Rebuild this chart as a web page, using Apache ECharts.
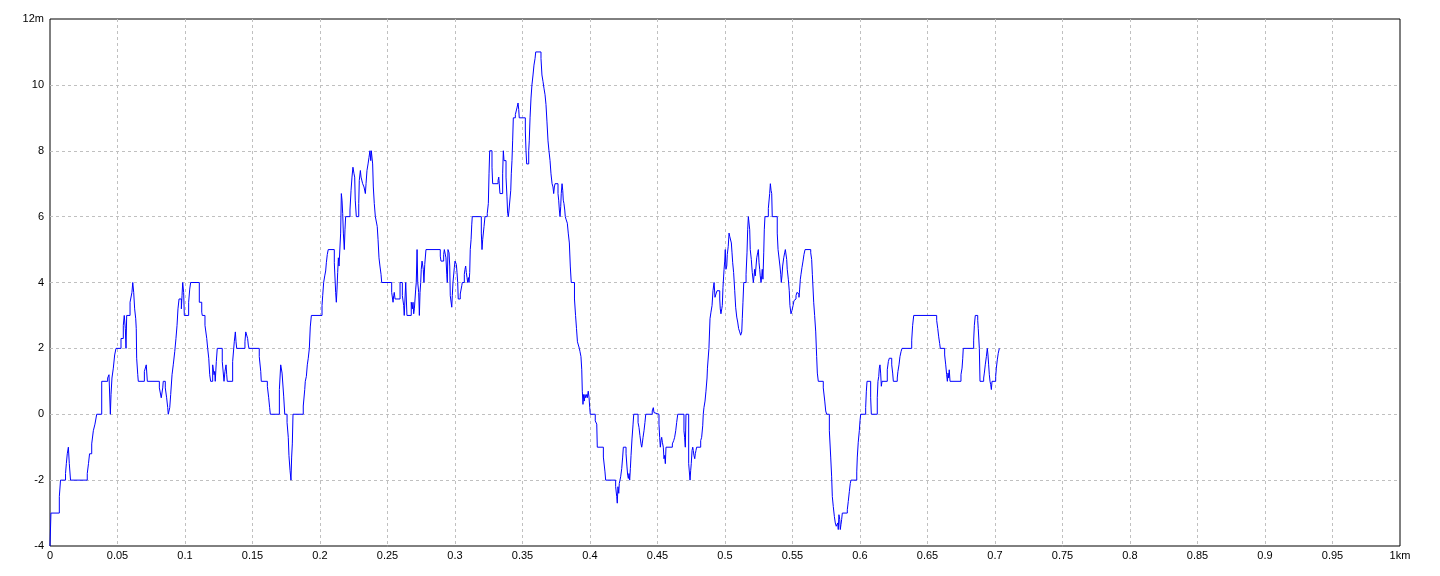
<!DOCTYPE html>
<html>
<head>
<meta charset="utf-8">
<style>
  html, body { margin: 0; padding: 0; background: #fff; }
  #chart { width: 1440px; height: 576px; }
</style>
<script src="https://cdn.jsdelivr.net/npm/echarts@6/dist/echarts.min.js"></script>
</head>
<body>
<div id="chart"></div>
<script>
// Distance along the route (km) where the elevation changes to the value below
const distanceKm = [
  0, 0.0007, 0.0069, 0.0078, 0.0115, 0.0121, 0.0128, 0.0136, 0.0143, 0.0152,
  0.0276, 0.0285, 0.0293, 0.0309, 0.0321, 0.0333, 0.0346, 0.0383, 0.0427, 0.0437,
  0.0447, 0.0452, 0.0459, 0.0469, 0.0479, 0.0489, 0.0526, 0.0543, 0.0550, 0.0558,
  0.0563, 0.0568, 0.0593, 0.0607, 0.0613, 0.0620, 0.0627, 0.0635, 0.0639, 0.0642,
  0.0650, 0.0654, 0.0699, 0.0713, 0.0721, 0.0810, 0.0824, 0.0835, 0.0839, 0.0854,
  0.0864, 0.0872, 0.0876, 0.0887, 0.0894, 0.0904, 0.0913, 0.0924, 0.0933, 0.0941,
  0.0948, 0.0956, 0.0973, 0.0978, 0.0983, 0.0990, 0.0995, 0.1027, 0.1035, 0.1042,
  0.1106, 0.1124, 0.1128, 0.1148, 0.1161, 0.1168, 0.1176, 0.1183, 0.1190, 0.1205,
  0.1215, 0.1220, 0.1224, 0.1232, 0.1239, 0.1276, 0.1289, 0.1296, 0.1304, 0.1309,
  0.1313, 0.1353, 0.1365, 0.1373, 0.1378, 0.1383, 0.1444, 0.1450, 0.1464, 0.1469,
  0.1474, 0.1550, 0.1561, 0.1565, 0.1610, 0.1620, 0.1627, 0.1632, 0.1699, 0.1709,
  0.1719, 0.1731, 0.1739, 0.1756, 0.1765, 0.1770, 0.1778, 0.1785, 0.1790, 0.1795,
  0.1800, 0.1876, 0.1887, 0.1891, 0.1899, 0.1906, 0.1913, 0.1921, 0.1928, 0.1936,
  0.2015, 0.2020, 0.2027, 0.2035, 0.2042, 0.2047, 0.2054, 0.2061, 0.2106, 0.2116,
  0.2121, 0.2126, 0.2131, 0.2136, 0.2141, 0.2153, 0.2158, 0.2163, 0.2168, 0.2173,
  0.2180, 0.2185, 0.2190, 0.2222, 0.2230, 0.2237, 0.2244, 0.2252, 0.2257, 0.2261,
  0.2269, 0.2287, 0.2291, 0.2299, 0.2304, 0.2316, 0.2326, 0.2336, 0.2341, 0.2348,
  0.2356, 0.2363, 0.2370, 0.2376, 0.2380, 0.2390, 0.2395, 0.2402, 0.2410, 0.2424,
  0.2430, 0.2437, 0.2444, 0.2452, 0.2457, 0.2531, 0.2541, 0.2546, 0.2550, 0.2556,
  0.2593, 0.2610, 0.2620, 0.2624, 0.2635, 0.2644, 0.2676, 0.2684, 0.2689, 0.2694,
  0.2699, 0.2704, 0.2709, 0.2713, 0.2719, 0.2724, 0.2731, 0.2736, 0.2741, 0.2746,
  0.2750, 0.2756, 0.2765, 0.2770, 0.2776, 0.2780, 0.2785, 0.2891, 0.2896, 0.2916,
  0.2921, 0.2933, 0.2939, 0.2943, 0.2948, 0.2956, 0.2961, 0.2965, 0.2976, 0.2980,
  0.2985, 0.2995, 0.3000, 0.3010, 0.3015, 0.3020, 0.3024, 0.3039, 0.3050, 0.3054,
  0.3069, 0.3074, 0.3079, 0.3084, 0.3089, 0.3094, 0.3099, 0.3104, 0.3109, 0.3113,
  0.3119, 0.3124, 0.3128, 0.3195, 0.3200, 0.3205, 0.3215, 0.3222, 0.3239, 0.3247,
  0.3252, 0.3257, 0.3274, 0.3279, 0.3319, 0.3324, 0.3328, 0.3333, 0.3353, 0.3358,
  0.3363, 0.3378, 0.3385, 0.3390, 0.3395, 0.3400, 0.3413, 0.3417, 0.3422, 0.3427,
  0.3432, 0.3447, 0.3459, 0.3467, 0.3472, 0.3476, 0.3521, 0.3526, 0.3531, 0.3546,
  0.3550, 0.3556, 0.3563, 0.3570, 0.3578, 0.3585, 0.3593, 0.3598, 0.3637, 0.3644,
  0.3652, 0.3659, 0.3667, 0.3674, 0.3681, 0.3689, 0.3696, 0.3704, 0.3711, 0.3719,
  0.3726, 0.3731, 0.3736, 0.3741, 0.3763, 0.3768, 0.3773, 0.3778, 0.3783, 0.3787,
  0.3793, 0.3798, 0.3802, 0.3807, 0.3813, 0.3817, 0.3824, 0.3832, 0.3839, 0.3847,
  0.3854, 0.3861, 0.3885, 0.3893, 0.3900, 0.3907, 0.3921, 0.3926, 0.3933, 0.3939,
  0.3943, 0.3948, 0.3953, 0.3958, 0.3963, 0.3968, 0.3976, 0.3980, 0.3987, 0.3993,
  0.3998, 0.4002, 0.4039, 0.4050, 0.4054, 0.4099, 0.4111, 0.4116, 0.4190, 0.4198,
  0.4202, 0.4207, 0.4213, 0.4217, 0.4222, 0.4227, 0.4235, 0.4242, 0.4247, 0.4267,
  0.4274, 0.4279, 0.4284, 0.4289, 0.4294, 0.4299, 0.4304, 0.4311, 0.4319, 0.4324,
  0.4356, 0.4363, 0.4370, 0.4378, 0.4383, 0.4387, 0.4393, 0.4400, 0.4407, 0.4413,
  0.4461, 0.4469, 0.4474, 0.4479, 0.4511, 0.4516, 0.4521, 0.4526, 0.4531, 0.4536,
  0.4543, 0.4548, 0.4553, 0.4558, 0.4563, 0.4610, 0.4620, 0.4627, 0.4635, 0.4642,
  0.4650, 0.4696, 0.4701, 0.4706, 0.4711, 0.4731, 0.4741, 0.4746, 0.4750, 0.4756,
  0.4761, 0.4765, 0.4770, 0.4776, 0.4780, 0.4785, 0.4790, 0.4820, 0.4827, 0.4835,
  0.4839, 0.4844, 0.4852, 0.4859, 0.4867, 0.4870, 0.4881, 0.4889, 0.4896, 0.4904,
  0.4911, 0.4919, 0.4926, 0.4933, 0.4941, 0.4961, 0.4965, 0.4970, 0.4976, 0.4980,
  0.4985, 0.4993, 0.4998, 0.5002, 0.5007, 0.5013, 0.5017, 0.5024, 0.5030, 0.5035,
  0.5039, 0.5047, 0.5052, 0.5057, 0.5064, 0.5072, 0.5079, 0.5087, 0.5094, 0.5101,
  0.5109, 0.5116, 0.5124, 0.5128, 0.5133, 0.5139, 0.5156, 0.5163, 0.5168, 0.5173,
  0.5183, 0.5187, 0.5195, 0.5202, 0.5210, 0.5215, 0.5220, 0.5224, 0.5230, 0.5235,
  0.5242, 0.5247, 0.5252, 0.5257, 0.5261, 0.5267, 0.5272, 0.5276, 0.5281, 0.5287,
  0.5291, 0.5296, 0.5321, 0.5331, 0.5336, 0.5341, 0.5346, 0.5350, 0.5387, 0.5393,
  0.5407, 0.5413, 0.5417, 0.5422, 0.5427, 0.5435, 0.5442, 0.5447, 0.5457, 0.5461,
  0.5469, 0.5476, 0.5481, 0.5489, 0.5496, 0.5504, 0.5511, 0.5519, 0.5526, 0.5533,
  0.5541, 0.5548, 0.5553, 0.5558, 0.5563, 0.5570, 0.5578, 0.5585, 0.5593, 0.5635,
  0.5642, 0.5647, 0.5657, 0.5664, 0.5672, 0.5679, 0.5684, 0.5691, 0.5728, 0.5739,
  0.5746, 0.5753, 0.5773, 0.5783, 0.5790, 0.5795, 0.5802, 0.5810, 0.5817, 0.5824,
  0.5830, 0.5835, 0.5839, 0.5844, 0.5850, 0.5854, 0.5859, 0.5864, 0.5869, 0.5906,
  0.5913, 0.5921, 0.5928, 0.5933, 0.5976, 0.5980, 0.5987, 0.5995, 0.6000, 0.6005,
  0.6042, 0.6047, 0.6052, 0.6079, 0.6084, 0.6128, 0.6133, 0.6139, 0.6143, 0.6148,
  0.6153, 0.6158, 0.6163, 0.6202, 0.6210, 0.6217, 0.6235, 0.6242, 0.6247, 0.6276,
  0.6281, 0.6289, 0.6296, 0.6304, 0.6311, 0.6383, 0.6390, 0.6398, 0.6568, 0.6576,
  0.6583, 0.6590, 0.6595, 0.6627, 0.6635, 0.6642, 0.6647, 0.6652, 0.6657, 0.6661,
  0.6667, 0.6748, 0.6756, 0.6761, 0.6765, 0.6842, 0.6847, 0.6854, 0.6872, 0.6876,
  0.6884, 0.6889, 0.6916, 0.6921, 0.6928, 0.6936, 0.6943, 0.6948, 0.6953, 0.6958,
  0.6963, 0.6968, 0.6973, 0.6978, 0.7005, 0.7010, 0.7017, 0.7024, 0.7032
];

// Elevation (m) from that distance on
const elevationM = [
  -4, -3, -2.5, -2, -1.8, -1.5, -1.2, -1.0, -1.5, -2,
  -1.8, -1.5, -1.2, -0.9, -0.5, -0.3, 0, 1, 1.1, 1.2,
  0, 0.6, 1.1, 1.4, 1.8, 2, 2.3, 2.7, 3.0, 2.6,
  2.0, 3, 3.4, 3.7, 4, 3.7, 3.2, 2.9, 2.6, 1.7,
  1.2, 1, 1.3, 1.5, 1, 0.8, 0.5, 0.8, 1, 0.8,
  0.5, 0.2, 0, 0.2, 0.6, 1.2, 1.5, 1.9, 2.3, 2.7,
  3.2, 3.5, 3.2, 3.6, 4, 3.7, 3, 3.4, 3.8, 4,
  3.4, 3.1, 3, 2.7, 2.3, 2, 1.7, 1.2, 1, 1.5,
  1.2, 1.3, 1, 1.6, 2, 1.6, 1, 1.3, 1.5, 1.2,
  1, 1.6, 2.2, 2.5, 2.2, 2, 2.2, 2.5, 2.3, 2.1,
  2, 1.75, 1.3, 1, 0.85, 0.5, 0.2, 0, 0.75, 1.5,
  1.25, 0.55, 0, -0.25, -0.7, -1.25, -1.7, -2, -1.3, -0.9,
  0, 0.25, 0.75, 1, 1.15, 1.5, 1.7, 2, 2.65, 3,
  3.3, 3.6, 4, 4.2, 4.35, 4.6, 4.85, 5, 4.6, 3.7,
  3.4, 3.8, 4.3, 4.75, 4.5, 5.5, 6.7, 6.5, 6.1, 5.5,
  5, 5.6, 6, 6.2, 6.8, 7.2, 7.5, 7.3, 7.2, 6.5,
  6, 6.4, 7.1, 7.4, 7.2, 7.0, 6.9, 6.7, 7.0, 7.4,
  7.6, 7.8, 8, 7.7, 8, 7.6, 6.9, 6.4, 6, 5.7,
  5.3, 4.75, 4.5, 4.25, 4, 3.7, 3.4, 3.6, 3.7, 3.5,
  4, 3.6, 3.3, 3, 4, 3, 3.4, 3.2, 3.4, 3.05,
  3.2, 3.5, 3.8, 4, 5, 4, 3.7, 3, 3.7, 4,
  4.4, 4.65, 4.4, 4, 4.55, 4.5, 5, 4.8, 4.65, 4.85,
  5, 4.75, 4.25, 4, 5, 4.9, 4.5, 3.6, 3.25, 3.6,
  4, 4.45, 4.65, 4.55, 4.3, 4, 3.5, 3.65, 3.9, 4,
  4.25, 4.4, 4.5, 4.3, 4.15, 4, 4.15, 4, 4.3, 5,
  5.3, 5.75, 6, 5.5, 5, 5.3, 5.7, 6, 6.1, 6.4,
  7.3, 8, 7.5, 7, 7.1, 7.2, 7, 6.7, 7.3, 8,
  7.7, 7.2, 6.6, 6.1, 6, 6.2, 6.8, 7.3, 7.7, 8.3,
  9, 9.1, 9.3, 9.45, 9.25, 9, 8.6, 8, 7.6, 8,
  8.3, 9, 9.6, 10, 10.3, 10.6, 10.8, 11, 10.8, 10.3,
  10.1, 9.9, 9.7, 9.4, 8.9, 8.3, 8, 7.7, 7.3, 7.0,
  6.9, 6.7, 6.9, 7, 6.7, 6.5, 6.2, 6, 6.3, 6.7,
  7, 6.8, 6.5, 6.4, 6.2, 6.0, 5.9, 5.8, 5.5, 5.2,
  4.5, 4, 3.5, 3, 2.6, 2.2, 2, 1.9, 1.75, 1.35,
  0.7, 0.3, 0.6, 0.4, 0.6, 0.5, 0.6, 0.5, 0.7, 0.5,
  0.2, 0, -0.2, -0.3, -1, -1.3, -1.75, -2, -2.2, -2.5,
  -2.7, -2.2, -2.4, -2.1, -2, -1.9, -1.65, -1.3, -1, -1.2,
  -1.6, -1.85, -1.95, -1.8, -2, -1.65, -1.25, -0.75, -0.3, 0,
  -0.25, -0.4, -0.65, -0.9, -1, -0.9, -0.7, -0.5, -0.25, 0,
  0.1, 0.2, 0.05, 0, -0.3, -0.7, -1, -0.8, -0.7, -0.85,
  -1.0, -1.35, -1.25, -1.5, -1, -0.9, -0.8, -0.7, -0.5, -0.25,
  0, -0.5, -0.7, -1, 0, -1.5, -2, -1.7, -1.5, -1.1,
  -1, -1.1, -1.25, -1.35, -1.2, -1.1, -1, -0.8, -0.7, -0.35,
  0, 0.2, 0.4, 0.7, 1.1, 1.4, 2.0, 2.9, 3.1, 3.3,
  3.75, 4, 3.55, 3.65, 3.75, 3.5, 3.2, 3.05, 3.2, 3.3,
  3.85, 4.4, 4.65, 5, 4.4, 4.5, 4.85, 5.1, 5.5, 5.4,
  5.35, 5.2, 4.9, 4.6, 4.3, 3.75, 3.25, 2.95, 2.8, 2.6,
  2.5, 2.4, 2.5, 2.9, 3.4, 4, 4.25, 4.9, 5.6, 6,
  5.6, 5, 4.7, 4.3, 4, 4.2, 4.4, 4.2, 4.5, 4.75,
  4.9, 5, 4.6, 4.4, 4.2, 4, 4.2, 4.4, 4.1, 4.9,
  5.6, 6, 6.25, 6.7, 7, 6.8, 6.7, 6, 5.5, 5,
  4.5, 4.25, 4, 4.2, 4.5, 4.75, 4.9, 5, 4.7, 4.4,
  4.1, 3.75, 3.3, 3.05, 3.15, 3.3, 3.45, 3.5, 3.6, 3.7,
  3.65, 3.55, 3.8, 4.1, 4.25, 4.45, 4.65, 4.85, 5, 4.9,
  4.7, 4.25, 3.4, 3.0, 2.5, 1.75, 1.25, 1, 0.8, 0.4,
  0.1, 0, -0.5, -1.3, -1.9, -2.5, -2.8, -3.1, -3.3, -3.4,
  -3.45, -3.3, -3.5, -3.05, -3.2, -3.5, -3.35, -3.2, -3, -2.9,
  -2.65, -2.35, -2.1, -2, -1.75, -1.3, -0.85, -0.5, -0.2, 0,
  0.2, 0.7, 1, 0.5, 0, 0.5, 1, 1.15, 1.4, 1.5,
  1.25, 0.85, 1, 1.35, 1.6, 1.7, 1.5, 1.25, 1, 1.1,
  1.3, 1.5, 1.75, 1.9, 2, 2.25, 2.7, 3, 2.85, 2.6,
  2.35, 2.15, 2, 1.8, 1.5, 1.2, 1, 1.25, 1.1, 1.35,
  1, 1.2, 1.4, 1.7, 2, 2.25, 2.7, 3, 2.85, 2.6,
  2, 1, 1.1, 1.25, 1.5, 1.75, 2, 1.8, 1.5, 1.2,
  1, 0.9, 0.75, 1, 1.15, 1.4, 1.65, 1.85, 2
];

const xTicks = { min: 0, max: 1, step: 0.05, unit: 'km' };
const yTicks = { min: -4, max: 12, step: 2, unit: 'm' };

const points = distanceKm.map((d, i) => [d, elevationM[i]]);

const labelFont = {
  color: '#000',
  fontFamily: 'Liberation Sans, Arial, sans-serif',
  fontSize: 11
};

const chart = echarts.init(document.getElementById('chart'), null, { renderer: 'canvas' });
chart.setOption({
  animation: false,
  backgroundColor: '#fff',
  grid: {
    left: 50, right: 40, top: 19, bottom: 30,
    show: true, borderColor: '#000', borderWidth: 1, backgroundColor: '#fff'
  },
  xAxis: {
    type: 'value',
    min: xTicks.min, max: xTicks.max, interval: xTicks.step,
    axisLine: { show: false },
    axisTick: { show: false },
    axisLabel: Object.assign({}, labelFont, {
      margin: 4,
      showMinLabel: true, showMaxLabel: true,
      formatter: v => (Math.abs(v - xTicks.max) < 1e-9 ? String(xTicks.max) + xTicks.unit : String(+v.toFixed(2)))
    }),
    splitLine: {
      show: true, showMinLine: false, showMaxLine: false,
      lineStyle: { color: '#c0c0c0', width: 1, type: [3, 3] }
    }
  },
  yAxis: {
    type: 'value',
    min: yTicks.min, max: yTicks.max, interval: yTicks.step,
    axisLine: { show: false },
    axisTick: { show: false },
    axisLabel: Object.assign({}, labelFont, {
      margin: 6,
      showMinLabel: true, showMaxLabel: true,
      formatter: v => (v === yTicks.max ? String(v) + yTicks.unit : String(v))
    }),
    splitLine: {
      show: true, showMinLine: false, showMaxLine: false,
      lineStyle: { color: '#c0c0c0', width: 1, type: [3, 3] }
    }
  },
  series: [{
    type: 'line',
    step: 'end',
    data: points,
    showSymbol: false,
    symbol: 'none',
    lineStyle: { color: '#0000ff', width: 1 },
    z: 3
  }]
});
</script>
</body>
</html>
